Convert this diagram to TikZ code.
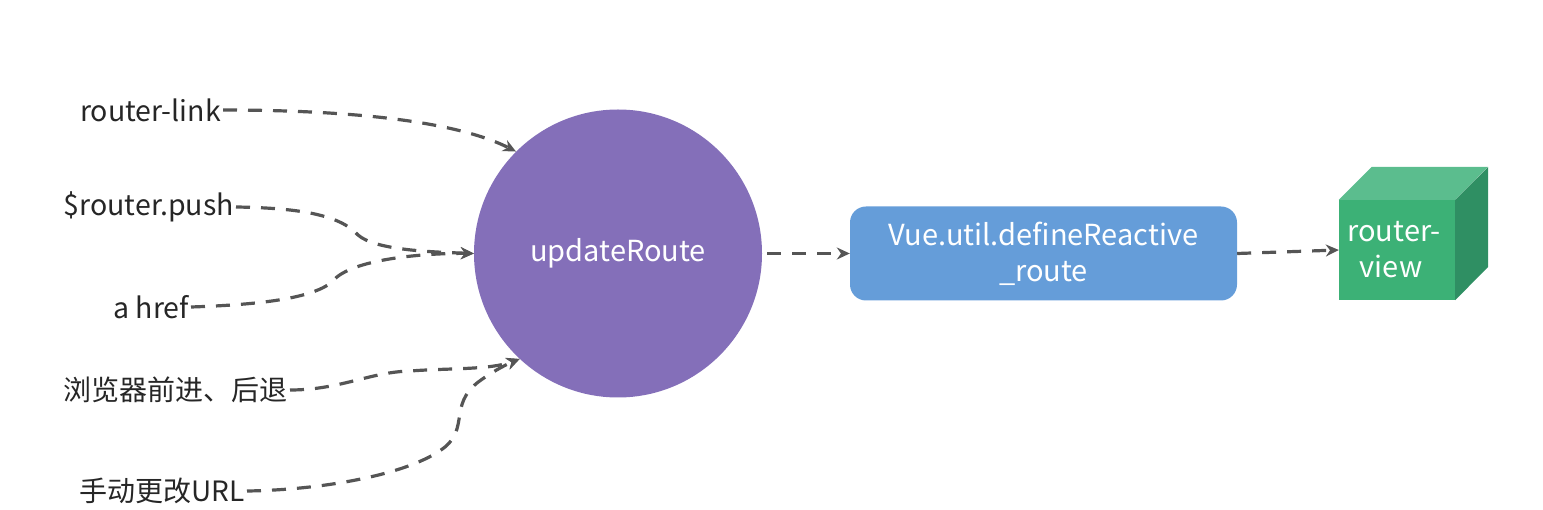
\documentclass[tikz,border=0pt]{standalone}
\usepackage{fontspec}
\setmainfont{Noto Sans CJK SC}
\usepackage{xcolor}
\usetikzlibrary{arrows.meta,calc}
\definecolor{routepurple}{RGB}{132,111,185}
\definecolor{reactblue}{RGB}{101,157,217}
\definecolor{viewgreen}{RGB}{60,177,118}
\definecolor{viewtop}{RGB}{91,189,142}
\definecolor{viewside}{RGB}{47,143,99}
\definecolor{linkgray}{RGB}{85,85,85}
\tikzset{
  srclabel/.style={anchor=east, inner sep=2pt, font=\fontsize{28.5}{34}\selectfont, text=black!85},
  cjklabel/.style={srclabel, font=\fontsize{28}{34}\selectfont},
  flowline/.style={-{Stealth[length=13pt,width=12pt]}, line width=3.2pt, linkgray, dash pattern=on 14pt off 11pt},
  whitetext/.style={text=white, align=center, font=\fontsize{29}{36}\selectfont},
}
\begin{document}
\begin{tikzpicture}[x=1pt, y=-1pt]
\useasboundingbox (0,0) rectangle (1543,510);
% Sources
\node[srclabel] (link) at (223,110) {router-link};
\node[srclabel] (push) at (236,207) {\$router.push};
\node[srclabel] (href) at (191,307) {a href};
\node[cjklabel] (back) at (290,390) {浏览器前进、后退};
\node[cjklabel] (manual) at (247,491) {手动更改URL};
% Middle
\node[circle, fill=routepurple, minimum size=288pt, inner sep=0pt, whitetext] (upd) at (618,253.5) {updateRoute};
\node[rectangle, rounded corners=16pt, fill=reactblue, minimum width=387pt, minimum height=94pt, inner sep=0pt, whitetext] (react) at (1043.5,253.5) {Vue.util.defineReactive\\\_route};
% Cube
\node[rectangle, fill=viewgreen, minimum width=116pt, minimum height=100pt, inner sep=0pt, whitetext] (view) at (1397,250) {\hspace*{-6pt}router-\\\hspace*{-12pt}view};
\fill[viewtop] (view.north west)--++(33,-33)--++(116,0)--(view.north east)--cycle;
\fill[viewside] (view.north east)--++(33,-33)--++(0,100)--(view.south east)--cycle;
% Curved arrows to the circle
\draw[flowline] (link.east) .. controls (330,110) and (450,118) .. (upd.135);
\draw[flowline] (push.east) .. controls (300,208) and (340,215) .. (358,235) .. controls (375,250) and (430,252) .. (upd.west);
\draw[flowline] (href.east) .. controls (250,305) and (310,300) .. (332,282) .. controls (350,258) and (430,253) .. (upd.west);
\draw[flowline] (back.east) .. controls (340,390) and (370,372) .. (410,371) .. controls (450,368) and (490,370) .. (upd.227);
\draw[flowline] (manual.east) .. controls (320,490) and (410,475) .. (445,447) .. controls (468,428) and (450,405) .. (477,383) .. controls (490,373) and (505,365) .. (upd.227);
% Straight arrows
\draw[flowline] (upd.east)++(5,0)--(react.west);
\draw[flowline] (react.east)--(view.west);
\end{tikzpicture}
\end{document}
